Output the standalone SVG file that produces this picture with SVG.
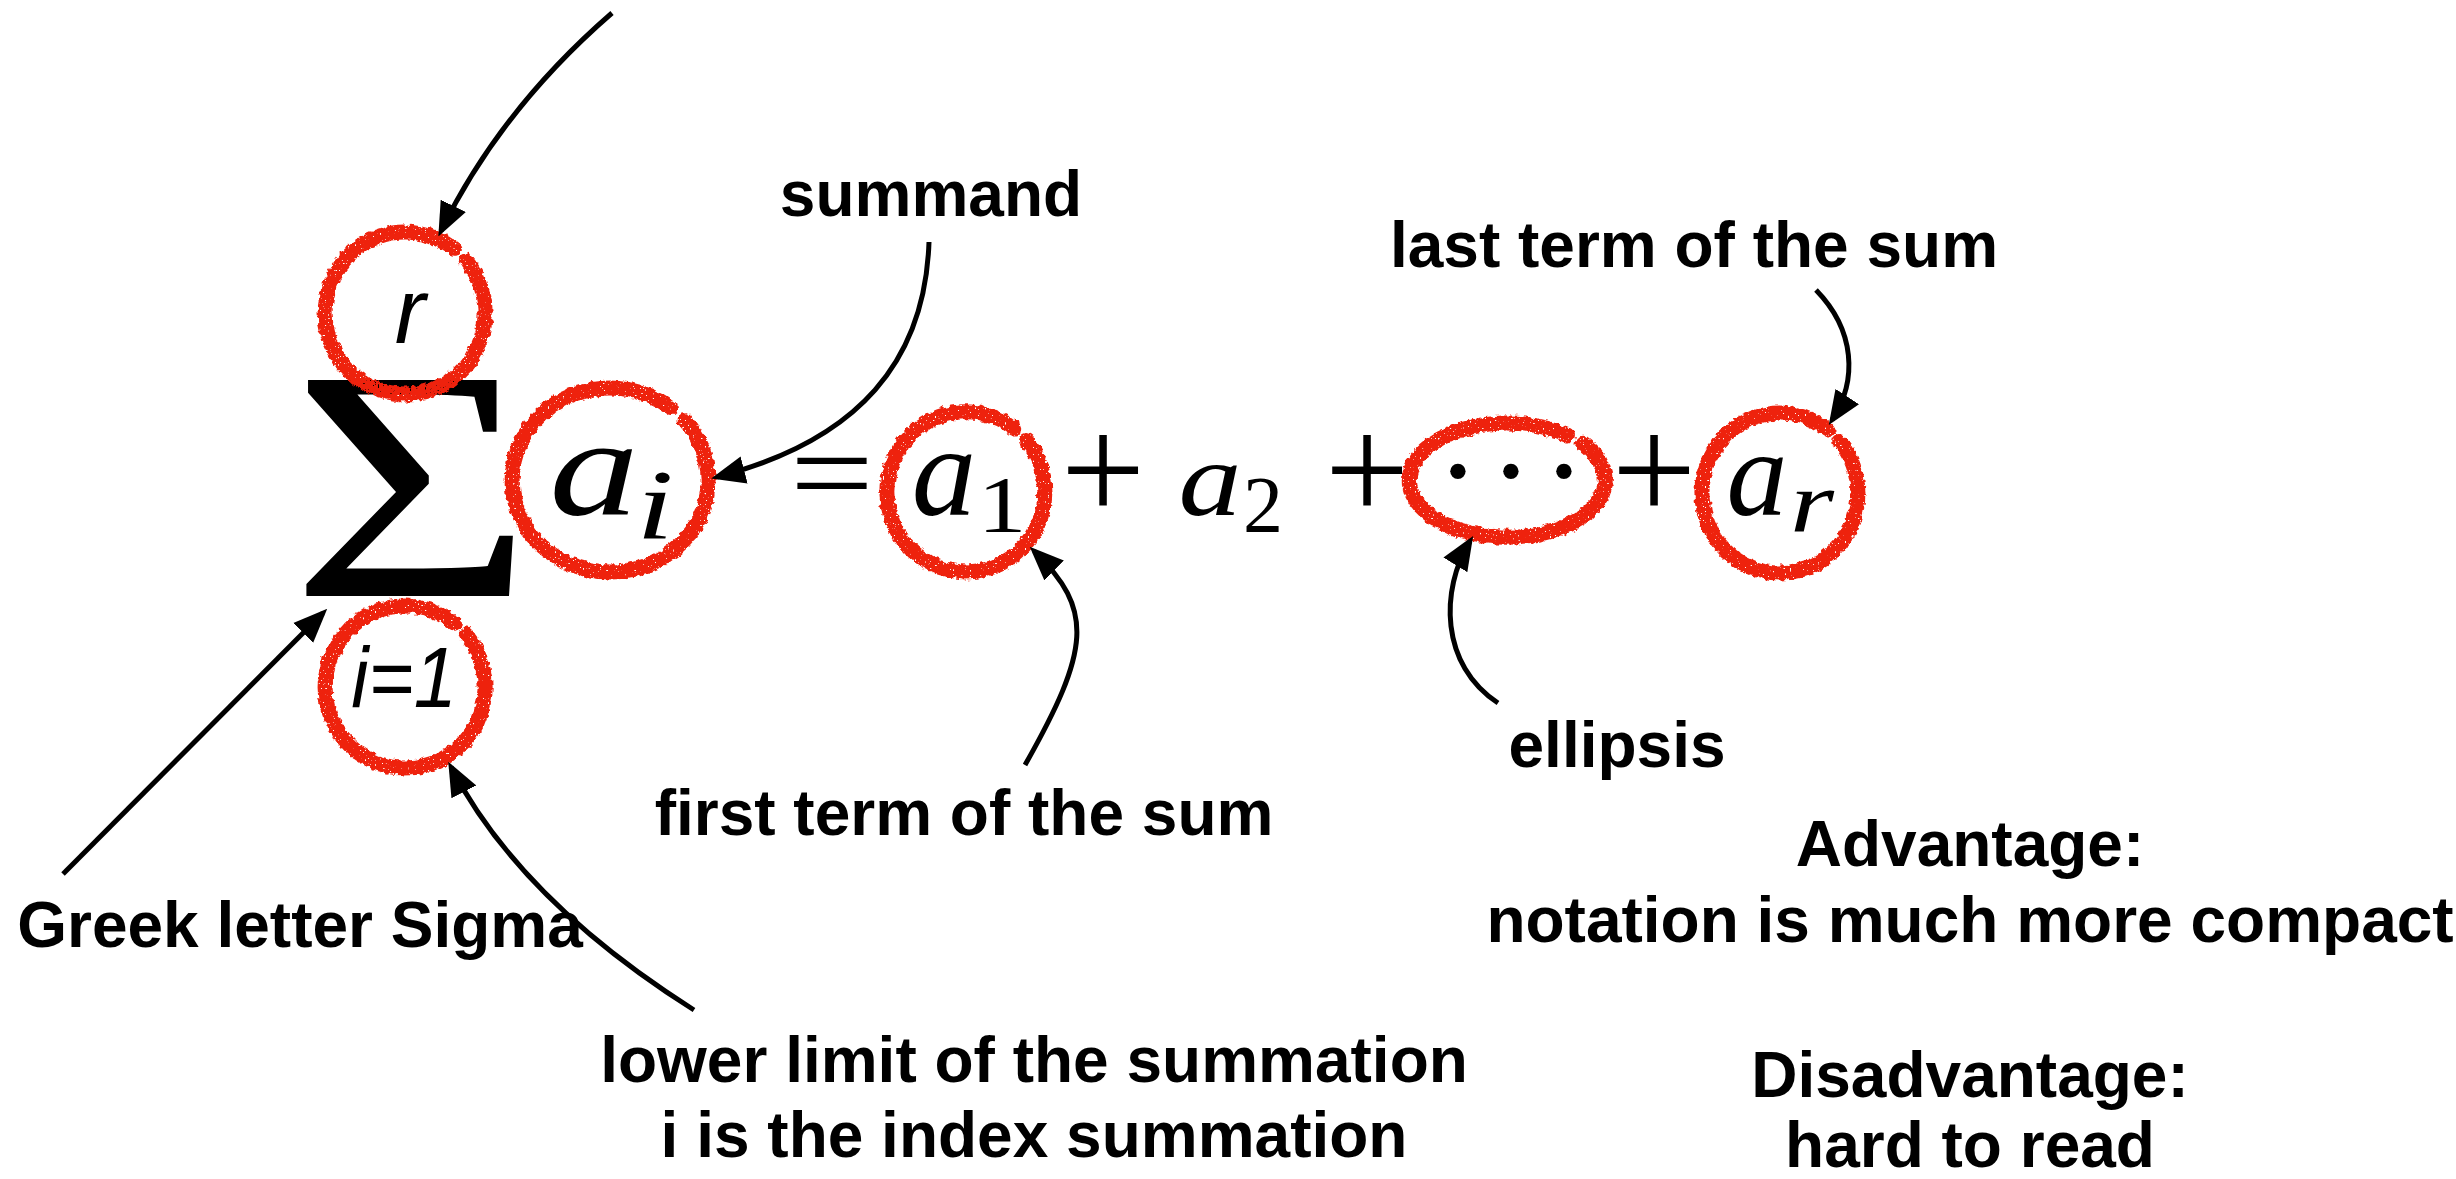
<svg xmlns="http://www.w3.org/2000/svg" width="2456" height="1179" viewBox="0 0 2456 1179">
  <style>
    .lbl { font-family: "Liberation Sans", Arial, Helvetica, sans-serif; font-weight: bold; font-size: 64px; fill: #000; text-anchor: middle; }
    .mi { font-family: "Liberation Serif", "Times New Roman", serif; font-style: italic; fill: #000; text-anchor: middle; }
    .mr { font-family: "Liberation Serif", "Times New Roman", serif; fill: #000; text-anchor: middle; }
    .lim { font-family: "Liberation Sans", Arial, Helvetica, sans-serif; font-style: italic; fill: #000; text-anchor: middle; }
    .ring { fill: none; stroke: #EE2211; stroke-width: 15; stroke-linecap: round; }
    .arr { fill: none; stroke: #000; stroke-width: 5; marker-end: url(#head); }
  </style>
  <defs>
    <marker id="head" markerUnits="userSpaceOnUse" markerWidth="34" markerHeight="30" refX="28" refY="15" orient="auto">
      <path d="M0,1 L34,15 L0,29 Z" fill="#000"/>
    </marker>
    <filter id="rough" x="-15%" y="-15%" width="130%" height="130%">
      <feTurbulence type="fractalNoise" baseFrequency="0.2" numOctaves="2" seed="4" result="n"/>
      <feDisplacementMap in="SourceGraphic" in2="n" scale="6" xChannelSelector="R" yChannelSelector="G" result="d"/>
      <feTurbulence type="fractalNoise" baseFrequency="0.6" numOctaves="1" seed="9" result="s"/>
      <feColorMatrix in="s" type="matrix" values="0 0 0 0 0  0 0 0 0 0  0 0 0 0 0  -16 0 0 0 11.8" result="holes"/>
      <feComposite in="d" in2="holes" operator="in"/>
    </filter>
  </defs>

  <rect width="2456" height="1179" fill="#fff"/>

  <g id="formula">
    <text class="mr" font-size="330" transform="translate(412,596) scale(1.27,1)">Σ</text>
    <text class="mi" font-size="140" transform="translate(594,515) scale(1.28,1)">a</text>
    <text class="mi" font-size="100" transform="translate(655,538) scale(1.35,1)">i</text>
    <text class="mr" font-size="126" transform="translate(832,515) scale(1.18,1)">=</text>
    <text class="mi" font-size="129" x="944" y="515">a</text>
    <text class="mr" font-size="81" transform="translate(1002,532) scale(1.2,1)">1</text>
    <text class="mr" font-size="150" x="1103" y="520">+</text>
    <text class="mi" font-size="105" transform="translate(1210,515) scale(1.2,1)">a</text>
    <text class="mr" font-size="80" x="1263" y="532">2</text>
    <text class="mr" font-size="150" x="1367" y="520">+</text>
    <text class="mr" font-size="130" x="1458 1511 1564" y="514">···</text>
    <text class="mr" font-size="150" x="1654" y="520">+</text>
    <text class="mi" font-size="122" x="1757" y="515">a</text>
    <text class="mi" font-size="87" transform="translate(1812,532) scale(1.3,1)">r</text>
  </g>

  <g id="upper-limit">
    <text class="lim" font-size="92" x="410" y="343">r</text>
  </g>
  <g id="lower-limit">
    <text class="lim" font-size="86" transform="translate(404,707) scale(0.9,1)">i=1</text>
  </g>

  <g id="rings" filter="url(#rough)">
    <path id="ring-r" class="ring" d="M466.3,260.9 A80,81 0 1 1 454.3,249.2"/>
    <path id="ring-i1" class="ring" d="M466.3,634.9 A80,81 0 1 1 454.3,623.2"/>
    <path id="ring-ai" class="ring" d="M685.1,420.8 A98,92 0 1 1 670.4,407.5"/>
    <path id="ring-a1" class="ring" d="M1026.5,440.6 A79,80 0 1 1 1014.7,429.0"/>
    <path id="ring-dots" class="ring" d="M1582.1,443.3 A98,57 0 1 1 1567.4,435.1"/>
    <path id="ring-ar" class="ring" d="M1839.7,441.6 A78,80 0 1 1 1828.0,430.0"/>
  </g>

  <g id="connectors">
    <path class="arr" d="M612,13 Q500,110 441,231"/>
    <path class="arr" d="M929,242 C925,360 860,440 717,477"/>
    <path class="arr" d="M1025,765 C1090,650 1095,610 1034,551"/>
    <path class="arr" d="M1498,703 C1440,665 1440,590 1470,541"/>
    <path class="arr" d="M1816,290 C1855,330 1858,380 1832,420"/>
    <path class="arr" d="M63,874 L323,613"/>
    <path class="arr" d="M694,1010 Q520,900 451,767"/>
  </g>

  <g id="labels">
    <text id="lbl-summand" class="lbl" font-size="63" x="931" y="216">summand</text>
    <text id="lbl-last" class="lbl" x="1694" y="267">last term of the sum</text>
    <text id="lbl-ellipsis" class="lbl" font-size="62" x="1617" y="767">ellipsis</text>
    <text id="lbl-first" class="lbl" x="964" y="835">first term of the sum</text>
    <text id="lbl-sigma" class="lbl" x="300" y="947">Greek letter Sigma</text>
    <text id="lbl-lower" class="lbl" x="1034" y="1082">lower limit of the summation</text>
    <text id="lbl-index" class="lbl" x="1034" y="1157">i is the index summation</text>
    <text id="lbl-adv" class="lbl" x="1970" y="866">Advantage:</text>
    <text id="lbl-adv2" class="lbl" x="1970" y="942">notation is much more compact</text>
    <text id="lbl-dis" class="lbl" x="1970" y="1097">Disadvantage:</text>
    <text id="lbl-dis2" class="lbl" x="1970" y="1167">hard to read</text>
  </g>
</svg>
